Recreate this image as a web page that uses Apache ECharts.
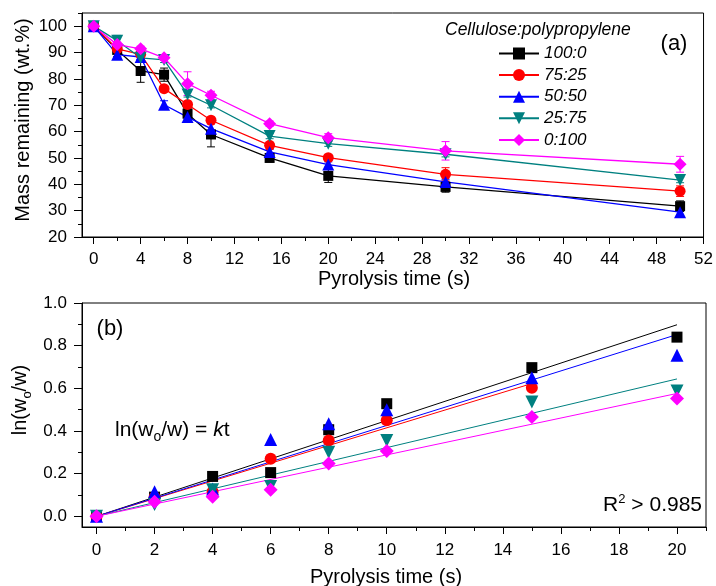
<!DOCTYPE html>
<html>
<head>
<meta charset="utf-8">
<script src="https://cdn.jsdelivr.net/npm/echarts@6/dist/echarts.min.js"></script>
<style>
html,body{margin:0;padding:0;background:#fff;}
#c{width:716px;height:586px;}
</style>
</head>
<body>
<div id="c"></div>
<script>
// ---------- DATA ----------
var seriesNames = ['100:0', '75:25', '50:50', '25:75', '0:100'];
// (a) mass remaining vs pyrolysis time
var times = [0, 2, 4, 6, 8, 10, 15, 20, 30, 50];
var mass_100_0 = [100, 91.0, 83.0, 81.6, 66.8, 58.9, 50.0, 43.2, 39.0, 31.7];
var mass_75_25 = [100, 91.4, 89.3, 76.3, 70.3, 64.3, 54.8, 50.1, 43.8, 37.4];
var mass_50_50 = [100, 89.2, 88.3, 70.2, 65.5, 61.1, 52.3, 47.5, 40.9, 29.4];
var mass_25_75 = [100, 94.5, 88.0, 87.2, 74.1, 70.0, 58.3, 55.4, 51.4, 41.6];
var mass_0_100 = [100, 93.0, 91.4, 88.0, 78.2, 73.8, 63.0, 57.7, 52.7, 47.6];
var err_100_0 = [0, 2.5, 4.3, 2.5, 2.0, 4.7, 1.5, 2.5, 2.0, 2.0];
var err_75_25 = [0, 1.0, 1.0, 1.0, 1.0, 1.0, 1.0, 1.0, 2.5, 2.0];
var err_50_50 = [0, 1.0, 1.0, 1.5, 1.5, 2.0, 1.0, 1.0, 1.0, 2.0];
var err_25_75 = [0, 2.0, 1.0, 1.0, 1.0, 1.0, 1.0, 1.0, 1.0, 1.0];
var err_0_100 = [0, 1.0, 1.0, 1.0, 4.5, 1.5, 1.0, 1.5, 3.5, 3.0];
// (b) ln(w0/w) vs time
var timesB = [0, 2, 4, 6, 8, 10, 15, 20];
var ln_100_0 = [0, 0.090, 0.187, 0.205, 0.406, 0.528, 0.697, 0.840];
var ln_75_25 = [0, 0.090, 0.115, 0.270, 0.356, 0.450, 0.603];
var ln_50_50 = [0, 0.115, 0.128, 0.360, 0.434, 0.500, 0.650, 0.755];
var ln_25_75 = [0, 0.055, 0.125, 0.140, 0.300, 0.356, 0.536, 0.587];
var ln_0_100 = [0, 0.068, 0.092, 0.125, 0.248, 0.306, 0.466, 0.552];
// fitted first-order rate constants k (1/s) and fit end time
var kFit = [0.0449, 0.0415, 0.0426, 0.0322, 0.0288];
var fitEnd = [20, 15, 20, 20, 20];
// tick labels
var ticksA_x = [0, 4, 8, 12, 16, 20, 24, 28, 32, 36, 40, 44, 48, 52];
var minorA_x = [2, 6, 10, 14, 18, 22, 26, 30, 34, 38, 42, 46, 50];
var ticksA_y = [20, 30, 40, 50, 60, 70, 80, 90, 100];
var minorA_y = [25, 35, 45, 55, 65, 75, 85, 95, 105];
var ticksB_x = [0, 2, 4, 6, 8, 10, 12, 14, 16, 18, 20];
var minorB_x = [1, 3, 5, 7, 9, 11, 13, 15, 17, 19, 21];
var ticksB_y = [0, 0.2, 0.4, 0.6, 0.8, 1.0];
var minorB_y = [0.1, 0.3, 0.5, 0.7, 0.9];

// ---------- STYLE ----------
var FONT = '"Liberation Sans", Arial, sans-serif';
var colors = ['#000000', '#ff0000', '#0000ff', '#008080', '#ff00ff'];
var symbols = ['rect', 'circle', 'triangle', 'triangle', 'diamond'];
var rotates = [0, 0, 0, 180, 0];
var sizesA = [10, 11, 12, 12, 13];
var sizesB = [11, 12, 13, 13, 14];
var massList = [mass_100_0, mass_75_25, mass_50_50, mass_25_75, mass_0_100];
var errList = [err_100_0, err_75_25, err_50_50, err_25_75, err_0_100];
var lnList = [ln_100_0, ln_75_25, ln_50_50, ln_25_75, ln_0_100];

function zip(xs, ys) { return ys.map(function (y, i) { return [xs[i], y]; }); }

function majorX(gi, min, max, ticks, margin) {
  return {
    type: 'value', gridIndex: gi, min: min, max: max, position: 'bottom',
    axisLine: { show: true, onZero: false, lineStyle: { color: '#000', width: 1 } },
    axisTick: { show: true, length: 7, customValues: ticks, lineStyle: { color: '#000' } },
    axisLabel: { customValues: ticks, margin: margin, color: '#000', fontSize: 17, fontFamily: FONT },
    splitLine: { show: false }
  };
}
function minorX(gi, min, max, ticks) {
  return {
    type: 'value', gridIndex: gi, min: min, max: max, position: 'bottom', offset: 0,
    axisLine: { show: false, onZero: false },
    axisTick: { show: true, length: 4, customValues: ticks, lineStyle: { color: '#000' } },
    axisLabel: { show: false }, splitLine: { show: false }
  };
}
function majorY(gi, min, max, ticks, fmt) {
  return {
    type: 'value', gridIndex: gi, min: min, max: max, position: 'left',
    axisLine: { show: true, onZero: false, lineStyle: { color: '#000', width: 1 } },
    axisTick: { show: true, length: 8, customValues: ticks, lineStyle: { color: '#000' } },
    axisLabel: { customValues: ticks, margin: 15, color: '#000', fontSize: 17, fontFamily: FONT, formatter: fmt },
    splitLine: { show: false }
  };
}
function minorY(gi, min, max, ticks) {
  return {
    type: 'value', gridIndex: gi, min: min, max: max, position: 'left', offset: 0,
    axisLine: { show: false, onZero: false },
    axisTick: { show: true, length: 4, customValues: ticks, lineStyle: { color: '#000' } },
    axisLabel: { show: false }, splitLine: { show: false }
  };
}

function errRender(color) {
  return function (params, api) {
    var x = api.value(0), y = api.value(1), e = api.value(2);
    if (!e) return null;
    var hi = api.coord([x, y + e]), lo = api.coord([x, y - e]);
    var w = 4;
    var st = { stroke: color, lineWidth: 1 };
    return {
      type: 'group', children: [
        { type: 'line', shape: { x1: hi[0], y1: hi[1], x2: lo[0], y2: lo[1] }, style: st },
        { type: 'line', shape: { x1: hi[0] - w, y1: hi[1], x2: hi[0] + w, y2: hi[1] }, style: st },
        { type: 'line', shape: { x1: lo[0] - w, y1: lo[1], x2: lo[0] + w, y2: lo[1] }, style: st }
      ]
    };
  };
}

var series = [];
for (var i = 0; i < 5; i++) {
  (function (i) {
    series.push({
      type: 'custom', name: 'err' + i, xAxisIndex: 0, yAxisIndex: 0,
      renderItem: errRender(colors[i]), encode: { x: 0, y: 1 },
      data: times.map(function (t, j) { return [t, massList[i][j], errList[i][j]]; }),
      z: 2, silent: true
    });
    series.push({
      type: 'line', name: seriesNames[i], xAxisIndex: 0, yAxisIndex: 0,
      data: zip(times, massList[i]), symbol: symbols[i], symbolSize: sizesA[i], symbolRotate: rotates[i],
      lineStyle: { color: colors[i], width: 1.3 }, itemStyle: { color: colors[i] },
      z: 3
    });
  })(i);
}
for (var i = 0; i < 5; i++) {
  var kx = fitEnd[i];
  series.push({
    type: 'line', name: 'fit' + i, xAxisIndex: 2, yAxisIndex: 2,
    data: [[0, 0], [kx, kFit[i] * kx]], showSymbol: false, symbol: 'none',
    lineStyle: { color: colors[i], width: 1 }, z: 2
  });
}
for (var i = 0; i < 5; i++) {
  series.push({
    type: 'scatter', name: 'ln' + i, xAxisIndex: 2, yAxisIndex: 2,
    data: zip(timesB, lnList[i]), symbol: symbols[i], symbolSize: sizesB[i], symbolRotate: rotates[i],
    itemStyle: { color: colors[i], opacity: 1 }, z: 3
  });
}

var option = {
  animation: false,
  backgroundColor: '#ffffff',
  textStyle: { fontFamily: FONT },
  grid: [
    { left: 82, top: 13, width: 624, height: 224, show: true, borderColor: '#000', borderWidth: 1, backgroundColor: 'transparent' },
    { left: 82, top: 303, width: 624, height: 224, show: true, borderColor: '#000', borderWidth: 1, backgroundColor: 'transparent' }
  ],
  xAxis: [
    majorX(0, -1, 52, ticksA_x, 14),
    minorX(0, -1, 52, minorA_x),
    majorX(1, -0.5, 21, ticksB_x, 15),
    minorX(1, -0.5, 21, minorB_x)
  ],
  yAxis: [
    majorY(0, 20, 105, ticksA_y, function (v) { return String(v); }),
    minorY(0, 20, 105, minorA_y),
    majorY(1, -0.05, 1.0, ticksB_y, function (v) { return v.toFixed(1); }),
    minorY(1, -0.05, 1.0, minorB_y)
  ],
  legend: {
    data: seriesNames, orient: 'vertical', left: 493, top: 40,
    itemWidth: 40, itemHeight: 15, itemGap: 4.6,
    textStyle: { fontSize: 17, fontStyle: 'italic', color: '#000', fontFamily: FONT, lineHeight: 17 },
    selectedMode: false
  },
  graphic: [
    { type: 'text', left: 445, top: 21, style: { text: 'Cellulose:polypropylene', font: 'italic 17.5px ' + FONT, fill: '#000' } },
    { type: 'text', x: 674, y: 44, style: { text: '(a)', font: '22px ' + FONT, fill: '#000', align: 'center', verticalAlign: 'middle' } },
    { type: 'text', x: 110, y: 329, style: { text: '(b)', font: '22px ' + FONT, fill: '#000', align: 'center', verticalAlign: 'middle' } },
    { type: 'text', x: 394, y: 279, style: { text: 'Pyrolysis time (s)', font: '20px ' + FONT, fill: '#000', align: 'center', verticalAlign: 'middle' } },
    { type: 'text', x: 386, y: 577, style: { text: 'Pyrolysis time (s)', font: '20px ' + FONT, fill: '#000', align: 'center', verticalAlign: 'middle' } },
    { type: 'text', x: 23, y: 120, rotation: Math.PI / 2, style: { text: 'Mass remaining (wt.%)', font: '20px ' + FONT, fill: '#000', align: 'center', verticalAlign: 'middle' } },
    { type: 'text', x: 20, y: 400, rotation: Math.PI / 2, style: {
        text: '{n|ln(w}{s|o}{n|/w)}', align: 'center', verticalAlign: 'middle',
        rich: { n: { fontSize: 20, fontFamily: FONT, fill: '#000', verticalAlign: 'middle' },
                s: { fontSize: 13, fontFamily: FONT, fill: '#000', padding: [14, 0, 0, 0], verticalAlign: 'middle' } } } },
    { type: 'text', x: 115, y: 430, style: {
        text: '{n|ln(w}{s|o}{n|/w) = }{i|k}{n|t}', align: 'left', verticalAlign: 'middle',
        rich: { n: { fontSize: 21, fontFamily: FONT, fill: '#000', verticalAlign: 'middle' },
                i: { fontSize: 21, fontFamily: FONT, fontStyle: 'italic', fill: '#000', verticalAlign: 'middle' },
                s: { fontSize: 14, fontFamily: FONT, fill: '#000', padding: [14, 0, 0, 0], verticalAlign: 'middle' } } } },
    { type: 'text', x: 702, y: 505, style: {
        text: '{n|R}{p|2}{n| > 0.985}', align: 'right', verticalAlign: 'middle',
        rich: { n: { fontSize: 21, fontFamily: FONT, fill: '#000', verticalAlign: 'middle' },
                p: { fontSize: 13, fontFamily: FONT, fill: '#000', padding: [0, 0, 12, 0], verticalAlign: 'middle' } } } }
  ],
  series: series
};

var chart = echarts.init(document.getElementById('c'), null, { renderer: 'canvas' });
chart.setOption(option);
</script>
</body>
</html>
